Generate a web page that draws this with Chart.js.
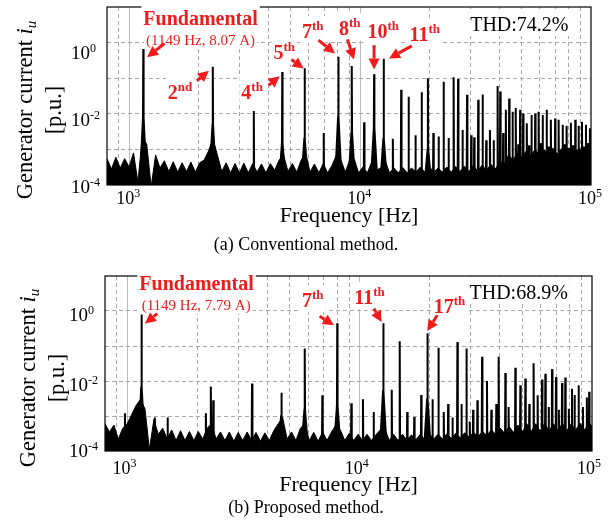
<!DOCTYPE html>
<html>
<head>
<meta charset="utf-8">
<script src="https://cdn.jsdelivr.net/npm/chart.js@4/dist/chart.umd.min.js"></script>
<style>
  body { margin: 0; background: #fff; width: 612px; height: 527px; position: relative; overflow: hidden; }
  canvas { position: absolute; left: 0; }
  #specA { top: 0; }
  #specB { top: 260px; }
</style>
</head>
<body>
<canvas id="specA" width="612" height="260"></canvas>
<canvas id="specB" width="612" height="267"></canvas>
<script>
// ---- spectrum data (frequency in Hz, amplitude in p.u.) ----

// frequencies where the noise floor envelope is sampled
const floorHz = [800, 836, 874, 913, 954, 997, 1042, 1089, 1138, 1189,
  1243, 1299, 1357, 1418, 1482, 1549, 1619, 1692, 1768, 1847,
  1931, 2017, 2108, 2203, 2302, 2406, 2514, 2627, 2745, 2869,
  2998, 3133, 3274, 3421, 3575, 3736, 3904, 4080, 4263, 4455,
  4656, 4865, 5084, 5313, 5552, 5802, 6063, 6336, 6621, 6919,
  7230, 7556, 7896, 8251, 8622, 9010, 9416, 9840, 10282, 10745,
  11229, 11734, 12262, 12814, 13391, 13993, 14623, 15281, 15969, 16687,
  17438, 18223, 19043, 19900, 20796, 21731, 22709, 23731, 24799, 25915,
  27081, 28300, 29574, 30904, 32295, 33748, 35267, 36854, 38513, 40246,
  42057, 43949, 45927, 47994, 50154, 52411, 54769, 57234, 59809, 62501,
  65313, 68252, 71324, 74533, 77887, 81392, 85055, 88882, 92882, 97062, 100000];

// (a) conventional method
const floorA = [5.5e-4, 2.8e-4, 6e-4, 3e-4, 5.5e-4, 3.2e-4, 8e-4, 1.2e-4, 2.2e-3, 1.4e-3,
  9e-5, 7e-4, 3e-4, 4.8e-4, 2.4e-4, 4.5e-4, 2.3e-4, 4.2e-4, 2.4e-4, 4.4e-4,
  2.3e-4, 4.2e-4, 5e-4, 9e-4, 2e-3, 7e-4, 2.4e-4, 4.2e-4, 2.2e-4, 4e-4,
  2.2e-4, 4.1e-4, 2.2e-4, 4e-4, 2.3e-4, 3.9e-4, 2.2e-4, 4e-4, 2.6e-4, 5e-4,
  7e-4, 2.4e-4, 4e-4, 2.3e-4, 5e-4, 8e-4, 2.3e-4, 3.9e-4, 2.2e-4, 4e-4,
  2.2e-4, 3.6e-4, 7e-4, 5e-4, 2.3e-4, 5e-4, 5.5e-4, 2.2e-4, 3.2e-4, 2.2e-4,
  4.5e-4, 2.6e-4, 3e-4, 5e-4, 2.2e-4, 3e-4, 2.2e-4, 3.1e-4, 2.2e-4, 3e-4,
  2.3e-4, 3.2e-4, 2.3e-4, 3.5e-4, 2.2e-4, 3e-4, 2.3e-4, 3.2e-4, 2.3e-4, 3.3e-4,
  2.4e-4, 3.4e-4, 2.4e-4, 3.5e-4, 2.5e-4, 3.6e-4, 2.6e-4, 3.8e-4, 2.8e-4, 4.5e-4,
  4e-4, 7e-4, 5e-4, 8e-4, 6e-4, 9e-4, 6.5e-4, 1e-3, 7e-4, 1e-3,
  7.5e-4, 1.1e-3, 7.5e-4, 1.05e-3, 8e-4, 1.1e-3, 8e-4, 1.1e-3, 8e-4, 1.1e-3, 9e-4];

const peakHzA = [1149, 2298, 3460, 4596, 5745, 6950, 8043, 9192, 10400, 11490, 12639, 13850, 15050, 16200,
  17350, 18450, 19650, 20750, 21850, 22970, 24140, 25400, 26550, 27740, 29040, 30270, 31190, 32460, 33890,
  35160, 36480, 37840, 39390, 40440, 41640, 42760, 44200, 45700, 47200, 48400, 49300, 50800, 52700, 53900,
  55200, 57300, 59300, 60600, 61700, 64200, 65500, 67000, 69900, 72400, 75300, 76900, 78400, 80100, 81800,
  83600, 85500, 88300, 91400, 93300, 95100, 96900, 98900];
const peakA = [0.66, 0.21, 0.012, 0.15, 0.19, 2.9e-3, 0.40, 0.22, 5.8e-3, 0.13, 0.35, 2e-3, 0.047, 0.030,
  2.5e-3, 0.040, 0.10, 2.9e-3, 2.3e-3, 0.079, 2.1e-3, 0.107, 0.095, 3.5e-3, 0.034, 2.5e-3, 2.2e-3, 0.025, 0.035,
  1.8e-3, 3.5e-3, 1.8e-3, 0.060, 0.042, 2.9e-3, 0.013, 0.027, 0.0115, 0.0145, 1.4e-3, 0.013, 0.0102, 5.4e-3, 1.3e-3,
  9.3e-3, 0.0102, 0.0115, 1.5e-3, 9.3e-3, 0.013, 1.2e-3, 6.8e-3, 7.4e-3, 6.8e-3, 4.9e-3, 1.4e-3, 4.6e-3, 1.1e-3, 5.6e-3,
  1.3e-3, 6.8e-3, 4.6e-3, 6e-3, 1.2e-3, 4.9e-3, 1.5e-3, 3.9e-3];
// level where the broad base of a line ends (0 = plain line)
const skirtA = [8e-3, 5e-3, 0, 1.5e-3, 2e-3, 0, 8e-3, 3e-3, 0, 4e-3, 2e-3, 0, 0, 0,
  0, 0, 1e-3, 0, 0, 0, 0, 0, 0, 0, 0, 0, 0, 0, 0,
  0, 0, 0, 0, 0, 0, 0, 0, 0, 0, 0, 0, 0, 0, 0,
  0, 0, 0, 0, 0, 0, 0, 0, 0, 0, 0, 0, 0, 0, 0,
  0, 0, 0, 0, 0, 0, 0, 0];

// (b) proposed method
const floorB = [6e-4, 3.5e-4, 5.5e-4, 2.2e-4, 4.5e-4, 6e-4, 1.1e-3, 2e-3, 3e-3, 1.6e-3,
  1.1e-4, 8e-4, 3e-4, 4.5e-4, 2.2e-4, 4e-4, 2e-4, 3.8e-4, 2e-4, 3.6e-4,
  2e-4, 3.6e-4, 2.2e-4, 4.5e-4, 6e-4, 2.2e-4, 3.5e-4, 2e-4, 3.5e-4, 1.9e-4,
  3.4e-4, 2e-4, 3.5e-4, 2e-4, 3.4e-4, 1.9e-4, 3.3e-4, 2e-4, 3.8e-4, 6e-4,
  9e-4, 2.2e-4, 3.5e-4, 2e-4, 4.5e-4, 6e-4, 2e-4, 3.4e-4, 1.9e-4, 3.5e-4,
  2e-4, 3.5e-4, 5.5e-4, 4e-4, 2e-4, 3.2e-4, 2e-4, 3e-4, 2e-4, 3e-4,
  2e-4, 2.9e-4, 4e-4, 4.5e-4, 2e-4, 3e-4, 2e-4, 3e-4, 2e-4, 2.9e-4,
  2.1e-4, 3e-4, 2.1e-4, 3.2e-4, 2.2e-4, 3e-4, 2.2e-4, 3.1e-4, 2.3e-4, 3.2e-4,
  2.4e-4, 3.3e-4, 2.5e-4, 3.4e-4, 2.6e-4, 3.6e-4, 2.8e-4, 4e-4, 3e-4, 4.5e-4,
  3.2e-4, 5e-4, 3.4e-4, 5.5e-4, 3.5e-4, 6e-4, 3.6e-4, 6e-4, 3.7e-4, 6.2e-4,
  3.8e-4, 6e-4, 3.8e-4, 6.2e-4, 3.8e-4, 6e-4, 4e-4, 6.2e-4, 4e-4, 6.5e-4, 5e-4];

const peakHzB = [975, 1149, 1312, 1487, 2175, 2284, 2340, 3437, 4600, 5795, 6900, 8000, 9200, 10320, 11470,
  12630, 13730, 14860, 16010, 17160, 18390, 19560, 20560, 21810, 23000, 24020, 25060, 26330, 27400, 28790,
  29760, 30760, 32100, 33620, 35300, 36860, 38720, 39630, 42360, 43750, 46770, 49140, 51640, 53700, 56050,
  58340, 60950, 62970, 65030, 67300, 69990, 72000, 74300, 76740, 79500, 82000, 84100, 87500, 91400, 95000, 97200];
const peakB = [1.2e-3, 0.80, 9e-4, 9e-4, 1.2e-3, 7e-3, 2.8e-3, 8.5e-3, 4.6e-3, 0.085, 3.9e-3, 0.45, 2.3e-3, 3e-3, 1.3e-3,
  0.45, 5.6e-3, 0.136, 1.3e-3, 9.3e-4, 4e-3, 0.23, 3e-3, 0.089, 1.3e-3, 2.2e-3, 9e-4, 0.13, 2.2e-3, 0.085,
  7e-4, 1.5e-3, 2.8e-3, 0.049, 0.010, 1.5e-3, 2.2e-3, 0.049, 0.017, 1.8e-3, 0.024, 7.6e-3, 0.0117, 2.2e-3, 0.032,
  3.9e-3, 0.011, 0.016, 1.8e-3, 0.022, 0.0129, 1.5e-3, 8.7e-3, 0.0126, 1.6e-3, 6e-3, 4e-3, 7.6e-3, 1.8e-3, 3.4e-3, 4.9e-3];
const skirtB = [0, 6.5e-3, 0, 0, 0, 0, 0, 0, 1e-3, 1.5e-3, 0, 2e-3, 0, 0, 0,
  5e-3, 0, 0, 0, 0, 0, 3e-3, 0, 0, 0, 0, 0, 0, 0, 0,
  0, 0, 0, 0, 0, 0, 0, 0, 0, 0, 0, 0, 0, 0, 0,
  0, 0, 0, 0, 0, 0, 0, 0, 0, 0, 0, 0, 0, 0, 0, 0];

// axis ticks / grid
const yTickExp = [0, -2, -4];
const xTickExp = [3, 4, 5];
const xGridHz = [900, 1000, 2000, 3000, 4000, 5000, 6000, 7000, 8000, 9000,
  10000, 20000, 30000, 40000, 50000, 60000, 70000, 80000, 90000];
const yGrid = [1e-3, 1e-2, 1e-1, 1];

const Y_MIN = 1e-4, Y_MAX = 10, X_MIN = 800, X_MAX = 100000;
const RED = '#f21b1b';
const SERIF = '"Liberation Serif", "Times New Roman", serif';

// ---- helpers ----
function fontOf(p) {
  return (p.italic ? 'italic ' : '') + (p.bold ? 'bold ' : '') + p.size + 'px ' + SERIF;
}

// draws a run of text pieces (base + superscripts) centred on yMid
function drawParts(ctx, x, yMid, parts, align, color, bg) {
  const base = parts[0].size;
  let total = 0;
  parts.forEach(p => { ctx.font = fontOf(p); p.w = ctx.measureText(p.t).width; total += p.w; });
  let cx = align === 'center' ? x - total / 2 : align === 'right' ? x - total : x;
  const baseline = yMid + base * 0.34;
  if (bg) {
    ctx.fillStyle = '#fff';
    ctx.fillRect(cx - 2, yMid - base * 0.75, total + 4, base * 1.35);
  }
  ctx.fillStyle = color;
  ctx.textAlign = 'left';
  ctx.textBaseline = 'alphabetic';
  parts.forEach(p => {
    ctx.font = fontOf(p);
    ctx.fillText(p.t, cx, baseline + (p.dy || 0));
    cx += p.w;
  });
}

function arrow(ctx, x0, y0, x1, y1) {
  const ang = Math.atan2(y1 - y0, x1 - x0), head = 11, half = 5.5;
  const bx = x1 - head * Math.cos(ang), by = y1 - head * Math.sin(ang);
  ctx.strokeStyle = RED; ctx.fillStyle = RED; ctx.lineWidth = 3;
  ctx.beginPath(); ctx.moveTo(x0, y0); ctx.lineTo(bx, by); ctx.stroke();
  ctx.beginPath();
  ctx.moveTo(x1, y1);
  ctx.lineTo(bx + half * Math.sin(ang), by - half * Math.cos(ang));
  ctx.lineTo(bx - half * Math.sin(ang), by + half * Math.cos(ang));
  ctx.closePath(); ctx.fill();
}

const ordinal = (n, suf) => [{ t: n, size: 20, bold: true }, { t: suf, size: 13, bold: true, dy: -8 }];

// frame, tick labels, titles and red call-outs
const spectrumDecor = {
  id: 'spectrumDecor',
  afterDraw(chart, args, o) {
    const { ctx, chartArea: a, scales: { x, y } } = chart;
    ctx.save();

    ctx.strokeStyle = '#000';
    ctx.lineWidth = 1.2;
    ctx.strokeRect(a.left, a.top, a.right - a.left, a.bottom - a.top);

    yTickExp.forEach((e, i) => {
      const py = y.getPixelForValue(Math.pow(10, e)) + o.yNudge[i];
      drawParts(ctx, a.left - 36, py, [{ t: '10', size: 19 }, { t: String(e), size: 12, dy: -7 }], 'left', '#000');
    });
    xTickExp.forEach(e => {
      const px = x.getPixelForValue(Math.pow(10, e)) + o.xNudge;
      drawParts(ctx, px, a.bottom + o.xLabelGap, [{ t: '10', size: 18 }, { t: String(e), size: 12, dy: -7 }], 'center', '#000');
    });

    drawParts(ctx, (a.left + a.right) / 2, o.xTitleY, [{ t: 'Frequency [Hz]', size: 22 }], 'center', '#000');

    ctx.save();
    ctx.translate(o.yTitleX[0], o.yTitleY);
    ctx.rotate(-Math.PI / 2);
    drawParts(ctx, 0, 0, [{ t: 'Generator current ', size: 22.5 }, { t: 'i', size: 22.5, italic: true },
      { t: 'u', size: 15, italic: true, dy: 4 }], 'center', '#000');
    ctx.restore();
    ctx.save();
    ctx.translate(o.yTitleX[1], o.yTitleY);
    ctx.rotate(-Math.PI / 2);
    drawParts(ctx, 0, 0, [{ t: '[p.u.]', size: 22.5 }], 'center', '#000');
    ctx.restore();

    drawParts(ctx, 306, o.captionY, [{ t: o.caption, size: 18 }], 'center', '#000');

    o.notes.forEach(n => {
      drawParts(ctx, x.getPixelForValue(n.hz), y.getPixelForValue(n.pu), n.parts, 'center', n.color || RED, true);
    });
    o.arrows.forEach(r => {
      arrow(ctx, x.getPixelForValue(r[0]), y.getPixelForValue(r[1]), x.getPixelForValue(r[2]), y.getPixelForValue(r[3]));
    });
    ctx.restore();
  }
};

// each line: a thin spike, optionally sitting on a short triangular base
function peakTrace(hz, val, skirt) {
  const pts = [];
  hz.forEach((f, i) => {
    const w = skirt[i] ? 0.035 : 0.004;
    pts.push({ x: f / (1 + w), y: Y_MIN });
    if (skirt[i]) pts.push({ x: f / 1.003, y: skirt[i] });
    pts.push({ x: f, y: val[i] });
    if (skirt[i]) pts.push({ x: f * 1.003, y: skirt[i] });
    pts.push({ x: f * (1 + w), y: Y_MIN });
  });
  return pts.sort((p, q) => p.x - q.x);
}

function spectrumChart(canvasId, floor, hz, val, skirt, pad, decor) {
  const solid = v => v === 1000 || v === 10000;
  return new Chart(document.getElementById(canvasId), {
    type: 'line',
    data: {
      datasets: [
        { data: floorHz.map((f, i) => ({ x: f, y: floor[i] })), borderColor: '#000', backgroundColor: '#000',
          borderWidth: 1, fill: 'start', pointRadius: 0, tension: 0 },
        { data: peakTrace(hz, val, skirt), borderColor: '#000', backgroundColor: '#000',
          borderWidth: 2, fill: 'start', pointRadius: 0, tension: 0 }
      ]
    },
    options: {
      responsive: false, animation: false, devicePixelRatio: 1,
      layout: { padding: pad },
      plugins: { legend: { display: false }, tooltip: { enabled: false }, spectrumDecor: decor },
      scales: {
        x: {
          type: 'logarithmic', min: X_MIN, max: X_MAX,
          afterBuildTicks: s => { s.ticks = xGridHz.map(v => ({ value: v })); },
          ticks: { display: false, autoSkip: false },
          grid: { drawTicks: false, color: c => solid(c.tick.value) ? '#bdbdbd' : '#a8a8a8', lineWidth: 1 },
          border: { display: false, dash: c => solid(c.tick.value) ? [] : [4, 3] }
        },
        y: {
          type: 'logarithmic', min: Y_MIN, max: Y_MAX,
          afterBuildTicks: s => { s.ticks = yGrid.map(v => ({ value: v })); },
          ticks: { display: false },
          grid: { drawTicks: false, color: '#a8a8a8', lineWidth: 1 },
          border: { display: false, dash: [4, 3] }
        }
      }
    },
    plugins: [spectrumDecor]
  });
}

spectrumChart('specA', floorA, peakHzA, peakA, skirtA,
  { left: 107, right: 21, top: 7, bottom: 75 },
  {
    yNudge: [9.5, 6, 2], xNudge: -1, xLabelGap: 12.5, xTitleY: 215, yTitleX: [24, 53], yTitleY: 110,
    caption: '(a) Conventional method.', captionY: 244,
    notes: [
      { hz: 2035, pu: 4.9, parts: [{ t: 'Fundamental', size: 20, bold: true }] },
      { hz: 2035, pu: 1.18, parts: [{ t: '(1149 Hz, 8.07 A)', size: 15 }] },
      { hz: 1658, pu: 0.0417, parts: ordinal('2', 'nd') },
      { hz: 3403, pu: 0.0417, parts: ordinal('4', 'th') },
      { hz: 4685, pu: 0.523, parts: ordinal('5', 'th') },
      { hz: 6227, pu: 2.11, parts: ordinal('7', 'th') },
      { hz: 9008, pu: 2.51, parts: ordinal('8', 'th') },
      { hz: 12586, pu: 2.11, parts: ordinal('10', 'th') },
      { hz: 19050, pu: 1.735, parts: ordinal('11', 'th') },
      { hz: 48930, pu: 3.32, color: '#000', parts: [{ t: 'THD:74.2%', size: 20 }] }
    ],
    arrows: [
      [1420, 0.94, 1193, 0.39],
      [1960, 0.084, 2211, 0.161],
      [4012, 0.0635, 4477, 0.114],
      [5032, 0.336, 5690, 0.1875],
      [6591, 1.176, 7779, 0.497],
      [8805, 1.23, 9404, 0.336],
      [11482, 0.85, 11482, 0.176],
      [16730, 0.81, 13335, 0.359]
    ]
  });

spectrumChart('specB', floorB, peakHzB, peakB, skirtB,
  { left: 105, right: 20, top: 16, bottom: 76 },
  {
    yNudge: [4, 3.5, 0], xNudge: -3, xLabelGap: 17, xTitleY: 223.5, yTitleX: [27, 56], yTitleY: 118,
    caption: '(b) Proposed method.', captionY: 247,
    notes: [
      { hz: 1983, pu: 6.07, parts: [{ t: 'Fundamental', size: 20, bold: true }] },
      { hz: 1975, pu: 1.48, parts: [{ t: '(1149 Hz, 7.79 A)', size: 15 }] },
      { hz: 6270, pu: 2.02, parts: ordinal('7', 'th') },
      { hz: 11025, pu: 2.51, parts: ordinal('11', 'th') },
      { hz: 24340, pu: 1.34, parts: ordinal('17', 'th') },
      { hz: 48330, pu: 3.49, color: '#000', parts: [{ t: 'THD:68.9%', size: 20 }] }
    ],
    arrows: [
      [1343, 0.843, 1189, 0.436],
      [6720, 0.706, 7741, 0.39],
      [11504, 1.17, 12413, 0.485],
      [21550, 0.753, 19520, 0.268]
    ]
  });
</script>
</body>
</html>
